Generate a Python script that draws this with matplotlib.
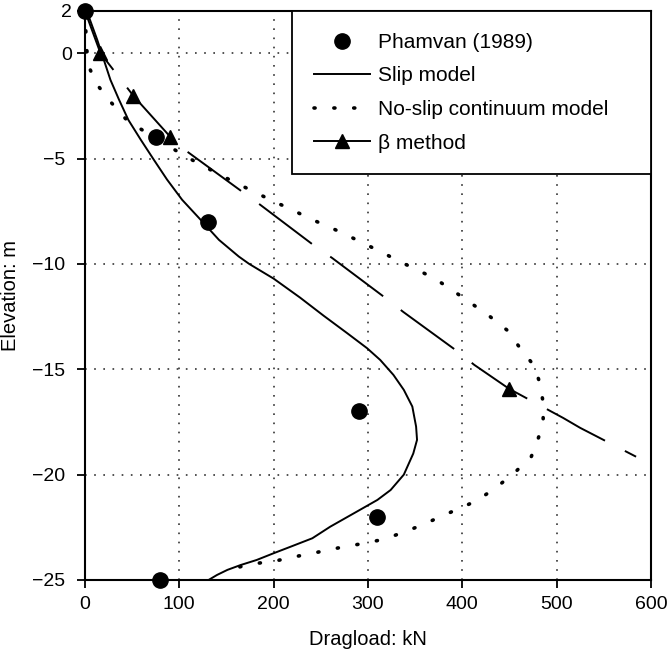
import matplotlib
matplotlib.use("Agg")
import matplotlib.pyplot as plt
import matplotlib.transforms as mtransforms

plt.rcParams['font.family'] = ['Liberation Sans', 'DejaVu Sans']

# measured dragload (kN) vs elevation (m)
pham_x = [0, 75, 130, 290, 310, 80]
pham_y = [2, -4, -8, -17, -22, -25]

slip_x = [0, 4, 13, 20, 27, 36, 46, 59, 73, 87, 103, 121, 142, 163, 174, 200, 228, 253, 278,
          299, 313, 327, 338, 347, 351, 352, 348, 338, 324, 310, 288, 260, 241, 218, 200,
          182, 165, 151, 140, 131]
slip_y = [2, 1.74, 0.63, -0.32, -1.27, -2.2, -3.17, -4.1, -5.06, -6.0, -6.96, -7.83, -8.86,
          -9.65, -10.0, -10.7, -11.6, -12.46, -13.29, -14.0, -14.56, -15.27, -15.98, -16.77,
          -17.72, -18.35, -19.0, -20.0, -20.73, -21.2, -21.76, -22.47, -23.02, -23.42, -23.73,
          -24.05, -24.29, -24.52, -24.76, -25]

noslip_x = [0, 1.6, 3.7, 12.2, 28.1, 45, 64.1, 102.2, 121.3, 159.4, 179.6, 198.6, 217.7, 236.8,
            255.8, 274.9, 294, 314.1, 332.1, 352.2, 371.3, 390.4, 409.4, 428.5, 447.6, 461.3,
            476.2, 482.5, 485.7, 485.7, 480.4, 473, 453.9, 433.8, 414.7, 395.6, 376.6, 357.5,
            337.7, 318.3, 299.6, 280.5, 261.1, 241.7, 223, 203.6, 184.1, 164.7, 150]
noslip_y = [2, 0.3, -0.6, -1.46, -2.36, -3.21, -3.74, -4.78, -5.26, -6.15, -6.58, -7.01, -7.39,
            -7.82, -8.19, -8.57, -9.0, -9.43, -9.86, -10.28, -10.71, -11.28, -11.87, -12.47,
            -13.15, -14.0, -14.84, -15.7, -16.6, -17.45, -18.3, -19.16, -19.97, -20.68, -21.25,
            -21.63, -22.0, -22.39, -22.73, -23.05, -23.23, -23.38, -23.54, -23.73, -23.89,
            -24.08, -24.2, -24.37, -24.6]

beta_x = [0, 16.4, 51.4, 90.6, 108.6, 166.8, 185.9, 242, 262, 318.3, 337.4, 395.7, 412.6,
          449.7, 506.9, 524.9, 584.2]
beta_y = [2, 0, -2.03, -3.98, -4.68, -6.58, -7.2, -9.1, -9.72, -11.61, -12.28, -14.18, -14.79,
          -15.93, -17.31, -17.78, -19.15]
beta_mx = [16.4, 51.4, 90.6, 449.7]
beta_my = [0, -2.03, -3.98, -15.93]

xticks = [0, 100, 200, 300, 400, 500, 600]
yticks = [2, 0, -5, -10, -15, -20, -25]

fig = plt.figure(figsize=(6.67, 6.5), dpi=100)
ax = fig.add_axes([0.1274, 0.1077, 0.8486, 0.8754])

ax.plot(slip_x, slip_y, color='black', lw=1.4, zorder=3)
ax.plot(noslip_x, noslip_y, color='black', lw=2.6, dashes=(0.3, 5.2),
        dash_capstyle='round', zorder=3)
ax.plot(beta_x, beta_y, color='black', lw=1.4, dashes=(34, 11.5), zorder=3)
ax.plot(beta_mx, beta_my, 'k^', ms=10, zorder=4)
ax.plot(pham_x, pham_y, 'ko', ms=11, zorder=5, clip_on=False)

# legend handles
h1, = ax.plot([], [], 'ko', ms=11)
h2, = ax.plot([], [], color='black', lw=1.4)
h3, = ax.plot([], [], color='black', lw=2.6, dashes=(0.3, 5.2), dash_capstyle='round')
h4, = ax.plot([], [], color='black', lw=1.4, marker='^', ms=10)
leg = ax.legend([h1, h2, h3, h4],
                ['Phamvan (1989)', 'Slip model', 'No-slip continuum model', '\u03b2 method'],
                loc='upper right', bbox_to_anchor=(0.366, 0.0, 0.634, 1.0), mode='expand',
                borderaxespad=0, fontsize=15, fancybox=False, framealpha=1,
                edgecolor='black', handlelength=2.7, handletextpad=0.35,
                borderpad=1.05, labelspacing=0.7)
leg.get_frame().set_linewidth(1.3)
leg.set_zorder(6)

ax.set_xlim(0, 600)
ax.set_ylim(-25, 2)
ax.set_xticks(xticks)
ax.set_yticks(yticks)
ax.tick_params(direction='out', length=5.5, width=1.3, labelsize=14)
ax.tick_params(axis='x', pad=6)
ax.tick_params(axis='y', pad=4)
ax.grid(True, color='#333333', lw=1.2, linestyle=(0, (1, 4.5)))
for s in ax.spines.values():
    s.set_linewidth(1.5)

# negative labels sit a little further left in the original
shift = mtransforms.ScaledTranslation(-7 / 100, 0, fig.dpi_scale_trans)
for lab, v in zip(ax.get_yticklabels(), yticks):
    if v < 0:
        lab.set_transform(lab.get_transform() + shift)

ax.set_xlabel('Dragload: kN', fontsize=14.5, labelpad=12)
ax.set_ylabel('Elevation: m', fontsize=14.5)
ax.yaxis.set_label_coords(-0.115, 0.5)

fig.savefig('out.png', dpi=100)
